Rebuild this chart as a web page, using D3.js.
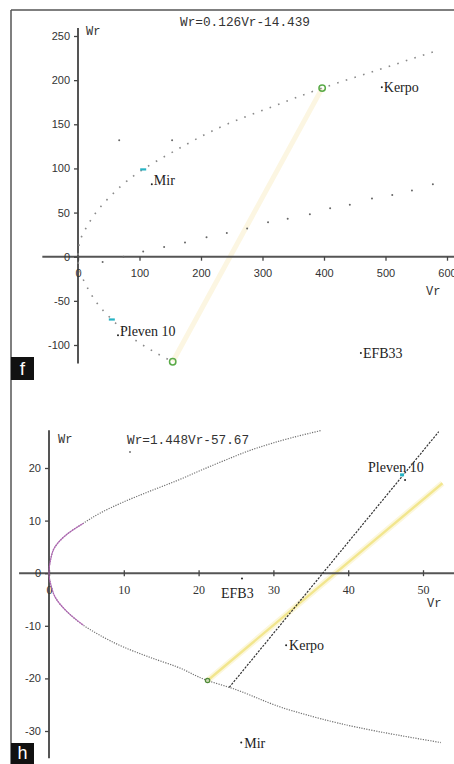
<!DOCTYPE html>
<html><head><meta charset="utf-8">
<script src="https://cdn.jsdelivr.net/npm/d3@7"></script>
<style>
html,body{margin:0;padding:0;background:#fff;}
svg{display:block;}
.tk text{font-family:Arial,"Liberation Sans",sans-serif;font-size:11px;fill:#333;}
.tk line{stroke:#444;stroke-width:1.3;}
.mono{font-family:"Liberation Mono","Courier New",monospace;font-size:12px;fill:#333;}
.lab{font-family:"Liberation Serif","Times New Roman",serif;font-size:14px;fill:#222;}
</style></head><body>
<script>
// ---------- Panel f data ----------
const fXTicks = [0,100,200,300,400,500,600];
const fYTicks = [-100,-50,0,50,100,150,200,250];
const fCurveVr = [577,490,397,320,242,155,106,80,52,36,16,3,0,2,16,36,55,90,122,154];
const fCurveWr = [232,212,191,171,150,119,99,86,68,56,36,17,0,-13,-36,-57,-71,-93,-107,-119];
const fDotsVr = [40,74,106,140,174,209,242,275,309,341,377,410,442,478,511,543,577];
const fDotsWr = [-6,0,6,11,16,22,27,32,39,43,48,55,59,66,70,75,82];
const fStrayVr = [67,153];
const fStrayWr = [132,132];
const fCircleVr = [397,154];
const fCircleWr = [191,-119];
const fCyanVr = [106,55];
const fCyanWr = [99,-71];
const fLabels = ["Mir","Kerpo","Pleven 10","EFB33"];
const fLabelVr = [120,494,65,460];
const fLabelWr = [82,192,-89,-109];
const fEquation = "Wr=0.126Vr-14.439";

// ---------- Panel h data ----------
const hXTicks = [0,10,20,30,40,50];
const hYTicks = [-30,-20,-10,0,10,20];
const hCurveVr = [36.3,32.3,27.8,23.4,20.2,17.1,13.5,9.9,6.8,4.6,2.4,0.8,0.2,0,0.3,0.8,2.4,4.6,6.8,9.9,13.5,17.1,21.2,24.1,32.4,41.2,52.4];
const hCurveWr = [27.1,25.7,23.8,21.4,19.5,17.6,15.6,13.5,11.4,9.5,7.4,5.0,2.5,0,-2.5,-4.5,-7.3,-9.9,-11.8,-14.0,-16.0,-17.8,-20.4,-21.7,-26.1,-29.3,-32.2];
const hPurpleFrom = 9.5, hPurpleTo = -9.9;   // Wr range drawn in purple
const hBlackVr = [24.1,52.1];
const hBlackWr = [-21.7,26.9];
const hYellowVr = [21.2,52.6];
const hYellowWr = [-20.4,17.1];
const hCircleVr = [21.2];
const hCircleWr = [-20.4];
const hCyanVr = [47.2];
const hCyanWr = [18.7];
const hLabels = ["Pleven 10","EFB3","Kerpo","Mir"];
const hLabelVr = [47.6,25.8,31.7,25.7];
const hLabelWr = [17.7,-1.0,-13.7,-32.2];
const hEquation = "Wr=1.448Vr-57.67";

const W=454,H=764;
const svg=d3.select("body").append("svg").attr("width",W).attr("height",H);
svg.append("rect").attr("width",W).attr("height",H).attr("fill","#fff");

// frame
svg.append("line").attr("x1",11).attr("x2",W).attr("y1",10).attr("y2",10).attr("stroke","#555").attr("stroke-width",1.5);
svg.append("line").attr("x1",11).attr("x2",11).attr("y1",10).attr("y2",H).attr("stroke","#555").attr("stroke-width",1.5);

// ================= Panel f =================
const fx=d3.scaleLinear().domain([0,600]).range([78,447]);
const fy=d3.scaleLinear().domain([-100,250]).range([345,36]);
const gf=svg.append("g");

gf.append("line").attr("x1",fx(fCircleVr[0])).attr("y1",fy(fCircleWr[0])).attr("x2",fx(fCircleVr[1])).attr("y2",fy(fCircleWr[1]))
  .attr("stroke","#fcf6e2").attr("stroke-width",5);

gf.append("line").attr("x1",fx(0)).attr("x2",fx(0)).attr("y1",fy(259)).attr("y2",fy(-121)).attr("stroke","#555").attr("stroke-width",2);
gf.append("line").attr("x1",fx(-58)).attr("x2",W).attr("y1",fy(0)).attr("y2",fy(0)).attr("stroke","#555").attr("stroke-width",2);

const fya=gf.append("g").attr("class","tk").attr("transform",`translate(${fx(0)},0)`)
  .call(d3.axisLeft(fy).tickValues(fYTicks).tickSize(4).tickPadding(4).tickFormat(d=>String(d)));
fya.select(".domain").remove();
const fxa=gf.append("g").attr("class","tk").attr("transform",`translate(0,${fy(0)})`)
  .call(d3.axisBottom(fx).tickValues(fXTicks).tickSize(4).tickPadding(8).tickFormat(d=>String(d)));
fxa.select(".domain").remove();

const fPts=fCurveVr.map((v,i)=>[fx(v),fy(fCurveWr[i])]);
gf.append("path").attr("d",d3.line().curve(d3.curveMonotoneY)(fPts)).attr("fill","none")
  .attr("stroke","#8a8a8a").attr("stroke-width",1.6).attr("stroke-dasharray","1.6,7.4");
gf.selectAll(".fd").data(fDotsVr).join("circle").attr("cx",d=>fx(d)).attr("cy",(d,i)=>fy(fDotsWr[i])).attr("r",1).attr("fill","#666");
gf.selectAll(".fs").data(fStrayVr).join("circle").attr("cx",d=>fx(d)).attr("cy",(d,i)=>fy(fStrayWr[i])).attr("r",1).attr("fill","#666");
gf.selectAll(".fc").data(fCyanVr).join("rect").attr("x",d=>fx(d)-3).attr("y",(d,i)=>fy(fCyanWr[i])-1).attr("width",6).attr("height",2.2).attr("fill","#27b3c4");
gf.selectAll(".fg").data(fCircleVr).join("circle").attr("cx",d=>fx(d)).attr("cy",(d,i)=>fy(fCircleWr[i])).attr("r",3.2)
  .attr("fill","none").attr("stroke","#5aaa48").attr("stroke-width",1.5);

const fPrefix=[".","·",".","·"];
fLabels.forEach((t,i)=>{
  const px=fx(fLabelVr[i]),py=fy(fLabelWr[i]);
  gf.append("circle").attr("cx",px).attr("cy",py).attr("r",1).attr("fill","#222");
  gf.append("text").attr("class","lab").attr("x",px+2).attr("y",py+(fPrefix[i]=="."?1:5)).text(t);
});
gf.append("text").attr("class","mono").attr("x",fx(0)+8).attr("y",35).text("Wr");
gf.append("text").attr("class","mono").attr("x",426).attr("y",295).text("Vr");
gf.append("text").attr("class","mono").attr("x",180).attr("y",26).attr("textLength",130).attr("lengthAdjust","spacingAndGlyphs").text(fEquation);

svg.append("rect").attr("x",11).attr("y",357).attr("width",23).attr("height",23).attr("fill","#111");
svg.append("text").attr("x",22.5).attr("y",375).attr("text-anchor","middle").attr("fill","#fff")
  .style("font-family","Arial,'Liberation Sans',sans-serif").style("font-size","19px").text("f");

// ================= Panel h =================
const hx=d3.scaleLinear().domain([0,50]).range([49,423]);
const hy=d3.scaleLinear().domain([-30,20]).range([731,468]);
const gh=svg.append("g");

gh.append("line").attr("x1",hx(hYellowVr[0])).attr("y1",hy(hYellowWr[0])).attr("x2",hx(hYellowVr[1])).attr("y2",hy(hYellowWr[1]))
  .attr("stroke","#fcf7dc").attr("stroke-width",6);
gh.append("line").attr("x1",hx(hYellowVr[0])).attr("y1",hy(hYellowWr[0])).attr("x2",hx(hYellowVr[1])).attr("y2",hy(hYellowWr[1]))
  .attr("stroke","#f2e68e").attr("stroke-width",2.4);

gh.append("line").attr("x1",hx(0)).attr("x2",hx(0)).attr("y1",hy(27.2)).attr("y2",hy(-35.2)).attr("stroke","#555").attr("stroke-width",2);
gh.append("line").attr("x1",hx(-4)).attr("x2",W).attr("y1",hy(0)).attr("y2",hy(0)).attr("stroke","#555").attr("stroke-width",2);

const hya=gh.append("g").attr("class","tk").attr("transform",`translate(${hx(0)},0)`)
  .call(d3.axisLeft(hy).tickValues(hYTicks).tickSize(4).tickPadding(4).tickFormat(d=>String(d)));
hya.select(".domain").remove();
const hxa=gh.append("g").attr("class","tk").attr("transform",`translate(0,${hy(0)})`)
  .call(d3.axisBottom(hx).tickValues(hXTicks).tickSize(3).tickPadding(9).tickFormat(d=>String(d)));
hxa.select(".domain").remove();
hxa.selectAll("line").attr("y1",-3).attr("y2",3);
hxa.selectAll("text").style("font-family","'Liberation Serif','Times New Roman',serif").style("font-size","12px");

const hPts=hCurveVr.map((v,i)=>[hx(v),hy(hCurveWr[i])]);
const hLine=d3.line().curve(d3.curveMonotoneY);
gh.append("path").attr("d",hLine(hPts)).attr("fill","none")
  .attr("stroke","#707070").attr("stroke-width",1.2).attr("stroke-dasharray","1.2,1.3");
const hPP=hPts.filter((p,i)=>hCurveWr[i]<=hPurpleFrom && hCurveWr[i]>=hPurpleTo);
gh.append("path").attr("d",hLine(hPP)).attr("fill","none")
  .attr("stroke","#b461b8").attr("stroke-width",1.1).attr("stroke-opacity",0.85);

gh.append("line").attr("x1",hx(hBlackVr[0])).attr("y1",hy(hBlackWr[0])).attr("x2",hx(hBlackVr[1])).attr("y2",hy(hBlackWr[1]))
  .attr("stroke","#333").attr("stroke-width",1.2).attr("stroke-dasharray","2.2,1.3");

gh.selectAll(".hc").data(hCyanVr).join("rect").attr("x",d=>hx(d)-2).attr("y",(d,i)=>hy(hCyanWr[i])-1.5).attr("width",4).attr("height",3).attr("fill","#27b3c4");
gh.selectAll(".hg").data(hCircleVr).join("circle").attr("cx",d=>hx(d)).attr("cy",(d,i)=>hy(hCircleWr[i])).attr("r",2.2)
  .attr("fill","#c9d9b0").attr("stroke","#4f8a3a").attr("stroke-width",1.2);

const hOff=[[-37,-8],[-21,20],[3,5],[3,5]];
hLabels.forEach((t,i)=>{
  const px=hx(hLabelVr[i]),py=hy(hLabelWr[i]);
  gh.append("circle").attr("cx",px).attr("cy",py).attr("r",1).attr("fill","#222");
  gh.append("text").attr("class","lab").attr("x",px+hOff[i][0]).attr("y",py+hOff[i][1]).text(t);
});
gh.append("circle").attr("cx",130).attr("cy",452).attr("r",0.9).attr("fill","#666");
gh.append("text").attr("class","mono").attr("x",hx(0)+9).attr("y",443).text("Wr");
gh.append("text").attr("class","mono").attr("x",427).attr("y",607).text("Vr");
gh.append("text").attr("class","mono").attr("x",127).attr("y",444).attr("textLength",122).attr("lengthAdjust","spacingAndGlyphs").text(hEquation);

svg.append("rect").attr("x",11).attr("y",743).attr("width",23).attr("height",21).attr("fill","#111");
svg.append("text").attr("x",22.5).attr("y",759).attr("text-anchor","middle").attr("fill","#fff")
  .style("font-family","Arial,'Liberation Sans',sans-serif").style("font-size","18px").text("h");
</script>
</body></html>
